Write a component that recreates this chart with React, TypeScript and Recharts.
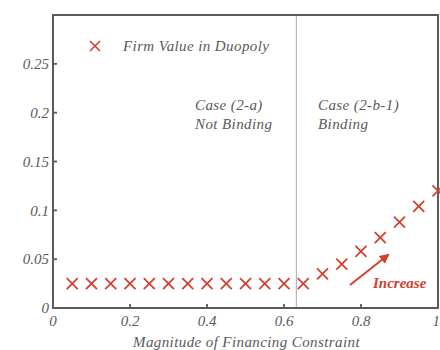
import React from 'react';
import { ScatterChart, Scatter, XAxis, YAxis, ReferenceLine, ReferenceArea } from 'recharts';

const constraint = [0.05, 0.1, 0.15, 0.2, 0.25, 0.3, 0.35, 0.4, 0.45, 0.5, 0.55, 0.6, 0.65, 0.7, 0.75, 0.8, 0.85, 0.9, 0.95, 1.0];
const firmValue = [0.025, 0.025, 0.025, 0.025, 0.025, 0.025, 0.025, 0.025, 0.025, 0.025, 0.025, 0.025, 0.025, 0.035, 0.045, 0.058, 0.072, 0.088, 0.104, 0.12];
const xTicks = [0, 0.2, 0.4, 0.6, 0.8, 1];
const yTicks = [0, 0.05, 0.1, 0.15, 0.2, 0.25, 0.3];
const yLabels = ['0', '0.05', '0.1', '0.15', '0.2', '0.25', ''];
const bindingPoint = 0.632;

const points = constraint.map((x, i) => ({ x, y: firmValue[i] }));

const RED = '#d2402e';
const GRAY = '#5a5a5a';
const FONT = '"Liberation Serif", "DejaVu Serif", serif';

const Cross = (props: any) => {
  const { cx, cy } = props;
  const s = 5.5;
  return (
    <g stroke={RED} strokeWidth={1.8}>
      <line x1={cx - s} y1={cy - s} x2={cx + s} y2={cy + s} />
      <line x1={cx - s} y1={cy + s} x2={cx + s} y2={cy - s} />
    </g>
  );
};

const tickStyle = { fill: GRAY, fontFamily: FONT, fontStyle: 'italic', fontSize: 15 };

export default function App() {
  return (
    <div style={{ position: 'absolute', left: 0, top: 0, width: 440, height: 350, background: '#fff' }}>
      <ScatterChart width={440} height={350} margin={{ top: 14, right: 0, left: 8, bottom: 12 }}>
        <XAxis
          xAxisId="b"
          type="number"
          dataKey="x"
          domain={[0, 1]}
          ticks={xTicks}
          tickFormatter={(v: number) => String(v)}
          tick={tickStyle}
          tickSize={-4}
          tickMargin={11}
          stroke={GRAY}
          strokeWidth={1.8}
          height={30}
        />
        <XAxis
          xAxisId="t"
          orientation="top"
          type="number"
          domain={[0, 1]}
          ticks={xTicks}
          tick={false}
          tickSize={-4}
          stroke={GRAY}
          strokeWidth={1.8}
          height={1}
        />
        <YAxis
          yAxisId="l"
          type="number"
          dataKey="y"
          domain={[0, 0.3]}
          ticks={yTicks}
          tickFormatter={(v: number, i: number) => yLabels[i]}
          tick={tickStyle}
          tickSize={-4}
          tickMargin={8}
          stroke={GRAY}
          strokeWidth={1.8}
          width={45}
        />
        <YAxis
          yAxisId="r"
          orientation="right"
          type="number"
          domain={[0, 0.3]}
          ticks={yTicks}
          tick={false}
          tickSize={-4}
          stroke={GRAY}
          strokeWidth={1.8}
          width={2}
        />
        <ReferenceArea xAxisId="b" yAxisId="l" x1={0} x2={1} y1={0} y2={0.3} fill="none" stroke={GRAY} strokeWidth={1.8} ifOverflow="visible" />
        <ReferenceLine xAxisId="b" yAxisId="l" x={bindingPoint} stroke="#a8a8a8" strokeWidth={1} />
        <Scatter xAxisId="b" yAxisId="l" data={points} shape={Cross} isAnimationActive={false} />
      </ScatterChart>
      <svg width={440} height={350} style={{ position: 'absolute', left: 0, top: 0, pointerEvents: 'none' }}>
        <defs>
          <marker id="ah" viewBox="0 0 10 10" refX="8" refY="5" markerWidth="5" markerHeight="5" orient="auto">
            <path d="M0,0 L10,5 L0,10 z" fill={RED} />
          </marker>
        </defs>
        <g stroke={RED} strokeWidth={1.6}>
          <line x1={90} y1={41} x2={100} y2={51} />
          <line x1={90} y1={51} x2={100} y2={41} />
        </g>
        <g fontFamily={FONT} fontStyle="italic" fill={GRAY} fontSize={15} letterSpacing={0.4}>
          <text x={123} y={51}>Firm Value in Duopoly</text>
          <text x={195} y={110}>Case (2-a)</text>
          <text x={195} y={129}>Not Binding</text>
          <text x={318} y={110}>Case (2-b-1)</text>
          <text x={318} y={129}>Binding</text>
          <text x={133} y={347}>Magnitude of Financing Constraint</text>
        </g>
        <line x1={350} y1={285} x2={388} y2={255} stroke={RED} strokeWidth={2} markerEnd="url(#ah)" />
        <text x={373} y={288} fontFamily={FONT} fontStyle="italic" fontWeight="bold" fill={RED} fontSize={15}>Increase</text>
      </svg>
    </div>
  );
}
